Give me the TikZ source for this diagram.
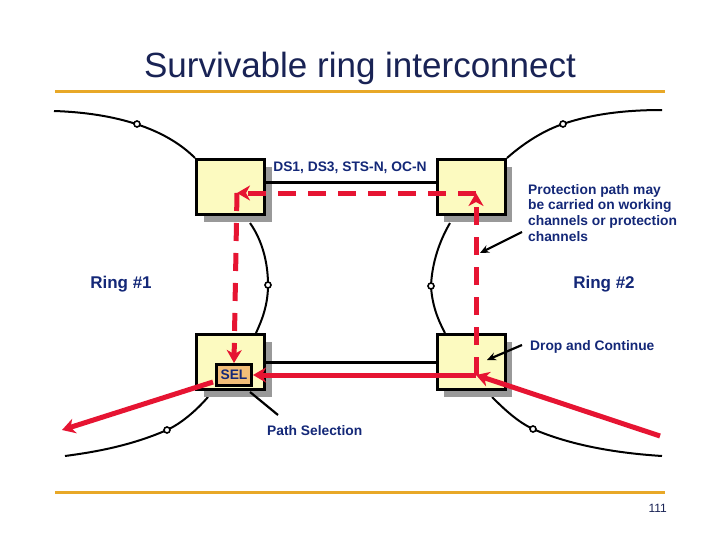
\documentclass[tikz,border=0pt]{standalone}
\usepackage{fontspec}
\setmainfont{Liberation Sans}
\usetikzlibrary{arrows.meta,shadows}
\definecolor{navy}{RGB}{20,40,120}
\definecolor{titlenavy}{RGB}{25,35,85}
\definecolor{redline}{RGB}{230,20,50}
\definecolor{boxfill}{RGB}{252,250,192}
\definecolor{selfill}{RGB}{242,190,120}
\definecolor{rulecol}{RGB}{232,168,40}
\begin{document}
\begin{tikzpicture}[x=1pt,y=-1pt,
  nebox/.style={draw=black, line width=3pt, fill=boxfill, minimum width=68pt, minimum height=55pt, inner sep=0pt,
    general shadow={shadow xshift=7pt, shadow yshift=-7pt, fill=black!40}},
  selbox/.style={draw=black, line width=3pt, fill=selfill, minimum width=35pt, minimum height=21pt, inner sep=0pt,
    font=\fontsize{13.8}{16}\selectfont\bfseries, text=navy},
  lbl/.style={font=\fontsize{13.8}{15.7}\selectfont\bfseries, text=navy, inner sep=0pt},
  ringlbl/.style={font=\fontsize{17}{20}\selectfont\bfseries, text=navy, inner sep=0pt},
  ring/.style={draw=black, line width=2pt},
  ringdot/.style={circle, draw=black, fill=white, line width=1.6pt, inner sep=0pt, minimum size=6pt},
  link/.style={draw=black, line width=3pt},
  redpath/.style={draw=redline, line width=5pt, -{Stealth[length=13pt,width=15pt,inset=4pt]}},
  reddash/.style={redpath, dash pattern=on 18pt off 12pt},
  callout/.style={draw=black, line width=2.2pt, -{Stealth[length=9pt,width=8pt]}},
  rulebar/.style={draw=rulecol, line width=3pt}
]
\useasboundingbox[fill=white] (0,0) rectangle (721,541);

% title and rules
\node[font=\fontsize{35}{40}\selectfont, text=titlenavy] (title) at (360,68) {Survivable ring interconnect};
\draw[rulebar] (55,91) -- (665,91);
\draw[rulebar] (55,492) -- (665,492);

% ring curves
\draw[ring] (54,111) .. controls (115,113) and (165,128) .. (195,158);
\draw[ring] (250,223) .. controls (262,240) and (268,262) .. (268,285) .. controls (268,305) and (262,320) .. (256,333);
\draw[ring] (208,397) .. controls (195,412) and (180,424) .. (167,430) .. controls (130,446) and (95,452) .. (65,456);
\draw[ring] (507,158) .. controls (525,142) and (545,130) .. (563,124) .. controls (595,113) and (630,110) .. (662,110);
\draw[ring] (450,223) .. controls (440,240) and (432,262) .. (431,286) .. controls (432,305) and (438,320) .. (445,333);
\draw[ring] (492,397) .. controls (505,410) and (518,422) .. (533,429) .. controls (570,445) and (615,453) .. (662,456);
\node[ringdot] (d1) at (137,124) {};
\node[ringdot] (d2) at (268,285) {};
\node[ringdot] (d3) at (167,430) {};
\node[ringdot] (d4) at (563,124) {};
\node[ringdot] (d5) at (431,286) {};
\node[ringdot] (d6) at (533,429) {};

% network elements
\node[nebox] (tl) at (230.5,187) {};
\node[nebox] (tr) at (471,187) {};
\node[nebox] (bl) at (230.5,362) {};
\node[nebox] (br) at (471,362) {};
\node[selbox] (sel) at (234,375) {SEL};

% links
\draw[link] ([yshift=5pt]tl.east) -- ([yshift=5pt]tr.west);
\draw[link] (bl.east) -- (br.west);
\node[lbl] (dslbl) at (350,168) {DS1, DS3, STS-N, OC-N};

% red paths
\coordinate (ctl) at (237,193);
\coordinate (ctr) at (476,193);
\coordinate (cbr) at (476,375);
\coordinate (ein) at (660,436);
\coordinate (eout) at (62,430);
\draw[reddash] (cbr) -- (ctr);
\draw[reddash] (ctr) -- (ctl);
\draw[reddash] (ctl) -- (sel.north);
\draw[redpath] (cbr) -- (sel.east);
\draw[redpath] (ein) -- (cbr);
\draw[redpath] ([xshift=-2pt,yshift=-7pt]sel.west) -- (eout);

% labels
\node[ringlbl] (r1) at (121,284) {Ring \#1};
\node[ringlbl] (r2) at (604,284) {Ring \#2};
\node[lbl, anchor=north west, align=left] (prot) at (528,184) {Protection path may\\be carried on working\\channels or protection\\channels};
\node[lbl, anchor=west] (dc) at (530,347) {Drop and Continue};
\node[lbl, anchor=west] (ps) at (267,431) {Path Selection};
\node[font=\fontsize{12}{14}\selectfont, text=titlenavy, anchor=east, inner sep=0pt] (pg) at (667,508) {111};

% callouts
\coordinate (pa) at (522,232);
\coordinate (pb) at (480,253);
\draw[callout] (pa) -- (pb);
\coordinate (da) at (522,345);
\coordinate (db) at (487,360);
\draw[callout] (da) -- (db);
\coordinate (sa) at (250,392);
\coordinate (sb) at (278,415);
\draw[draw=black, line width=2.2pt] (sa) -- (sb);
\end{tikzpicture}
\end{document}
